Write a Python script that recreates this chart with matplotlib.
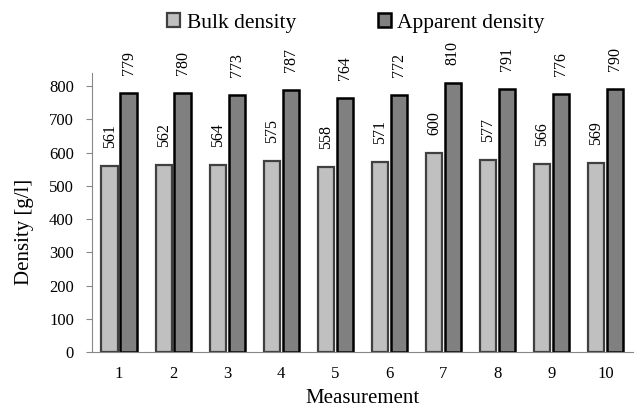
import matplotlib.pyplot as plt
import numpy as np
from matplotlib.patches import Patch

plt.rcParams['font.family'] = ['Liberation Serif', 'DejaVu Serif']

measurements = ['1', '2', '3', '4', '5', '6', '7', '8', '9', '10']
bulk = [561, 562, 564, 575, 558, 571, 600, 577, 566, 569]
apparent = [779, 780, 773, 787, 764, 772, 810, 791, 776, 790]

x = np.arange(len(measurements))
w = 0.3
off = 0.175

fig = plt.figure(figsize=(6.39, 4.07), dpi=100)
ax = fig.add_axes([0.144, 0.135, 0.846, 0.686])

ax.bar(x - off, bulk, w, color='#c0c0c0', edgecolor='#404040', linewidth=1.6)
ax.bar(x + off, apparent, w, color='#808080', edgecolor='black', linewidth=1.8)

# value labels, rotated
for xi, v in zip(x - off, bulk):
    ax.annotate(str(v), (xi, v), xytext=(0, 13), textcoords='offset points',
                rotation=90, ha='center', va='bottom', fontsize=11.5)
for xi, v in zip(x + off, apparent):
    ax.annotate(str(v), (xi, v), xytext=(0, 13), textcoords='offset points',
                rotation=90, ha='center', va='bottom', fontsize=11.5)

ax.set_xlim(-0.5, len(x) - 0.5)
ax.set_ylim(0, 840)
ax.set_yticks(range(0, 801, 100))
ax.set_xticks(x)
ax.set_xticklabels(measurements)
ax.tick_params(axis='x', length=0, labelsize=12, pad=10)
ax.tick_params(axis='y', length=4, color='#888888', labelsize=12, pad=9)
ax.spines['top'].set_visible(False)
ax.spines['right'].set_visible(False)
ax.spines['left'].set_color('#888888')
ax.spines['bottom'].set_color('#888888')

ax.set_xlabel('Measurement', fontsize=15, labelpad=5)
ax.set_ylabel('Density [g/l]', fontsize=15)
ax.yaxis.set_label_coords(-0.108, 0.43)

handles = [Patch(facecolor='#c0c0c0', edgecolor='#404040', linewidth=1.6),
           Patch(facecolor='#808080', edgecolor='black', linewidth=1.8)]
fig.legend(handles, ['Bulk density', 'Apparent density'], loc='upper center',
           bbox_to_anchor=(0.557, 1.015), ncol=2, frameon=False, fontsize=15.5,
           handlelength=0.6, handleheight=0.6, handletextpad=0.3, columnspacing=3.8)

plt.savefig('out.png', dpi=100)
